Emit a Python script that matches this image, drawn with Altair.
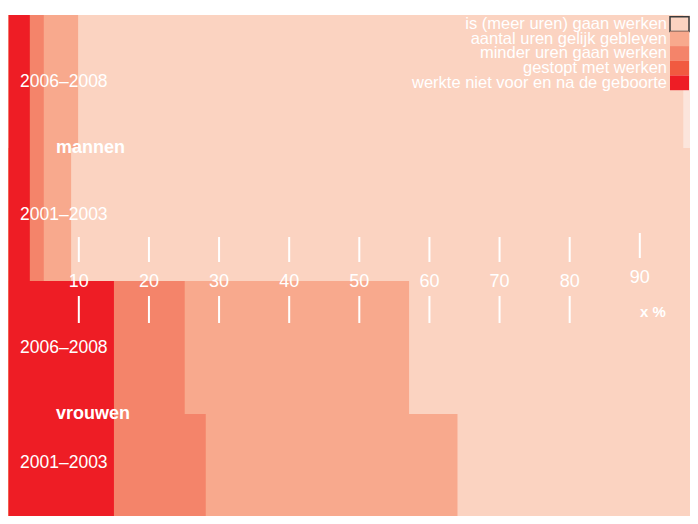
import altair as alt
import pandas as pd

FONT = "Liberation Sans"

# ---- data -------------------------------------------------------------
row_labels = ["2006–2008", "2001–2003", "2006–2008", "2001–2003"]
groups = ["mannen", "vrouwen"]
categories = [
    "werkte niet voor en na de geboorte",
    "gestopt met werken",
    "minder uren gaan werken",
    "aantal uren gelijk gebleven",
    "is (meer uren) gaan werken",
]
colors = ["#EE1D25", "#F15A40", "#F4846A", "#F8A98D", "#FBD3C1"]
rest_color = "#FCE5DC"

werkte_niet = [3.0, 3.0, 15.0, 15.0]
gestopt = [0.0, 0.0, 0.0, 0.0]
minder = [2.0, 2.0, 10.1, 13.1]
gelijk = [4.9, 3.9, 32.0, 35.9]
meer = [86.3, 88.3, 40.2, 34.1]

ticks = [10, 20, 30, 40, 50, 60, 70, 80, 90]

# ---- tables -------------------------------------------------------------
# Every rect starts at 0 and runs to its cumulative end (longest first) and
# down to the last row, drawn row by row, so adjoining rects leave no seams.
series = [werkte_niet, gestopt, minder, gelijk, meer]
n_rows = len(row_labels)
recs = []
for r in range(n_rows):
    for c in reversed(range(len(categories))):
        end = sum(series[k][r] for k in range(c + 1))
        recs.append({"row": r, "row_end": n_rows, "cat": categories[c], "x0": 0.0, "x1": end})
bars_df = pd.DataFrame(recs)
bg_df = pd.DataFrame({"row": [0], "row_end": [n_rows], "x0": [0.0], "x1": [100.0]})

lab_df = pd.DataFrame({"row": list(range(n_rows)), "label": row_labels})
grp_df = pd.DataFrame({"g": [1.0, 3.0], "label": groups})
tick_df = pd.DataFrame({"v": ticks, "t": [str(t) for t in ticks]})
legend_order = categories[::-1]
leg_df = pd.DataFrame({"label": legend_order, "color": colors[::-1]})

# ---- scales -------------------------------------------------------------
W, H = 682, 508
PX_PER_UNIT = 7.0122
ROW_PX = 133.0
y_top = -7.0 / ROW_PX
x_left = -0.1
xs = alt.Scale(domain=[x_left, x_left + W / PX_PER_UNIT], nice=False, zero=False)
ys = alt.Scale(domain=[y_top, y_top + H / ROW_PX], nice=False, zero=False, reverse=True)

bg = alt.Chart(bg_df).mark_rect(color=rest_color, clip=True).encode(
    x=alt.X("x0:Q", scale=xs, axis=None), x2="x1:Q",
    y=alt.Y("row:Q", scale=ys, axis=None), y2="row_end:Q",
)

bars = alt.Chart(bars_df).mark_rect(clip=True).encode(
    x=alt.X("x0:Q", scale=xs, axis=None), x2="x1:Q",
    y=alt.Y("row:Q", scale=ys, axis=None), y2="row_end:Q",
    color=alt.Color("cat:N", scale=alt.Scale(domain=categories, range=colors), legend=None),
)

row_text = alt.Chart(lab_df).transform_calculate(
    ypos="datum.row + (datum.row == 3 ? 0.37 : 0.5)"
).mark_text(align="left", baseline="middle", color="white", fontSize=17.5, font=FONT).encode(
    x=alt.value(12), y=alt.Y("ypos:Q", scale=ys, axis=None), text="label:N"
)

grp_text = alt.Chart(grp_df).mark_text(
    align="left", baseline="middle", color="white", fontSize=18, fontWeight="bold", font=FONT
).encode(x=alt.value(48), y=alt.Y("g:Q", scale=ys, axis=None), text="label:N")

tk = alt.Chart(tick_df)
tick_top = tk.transform_filter("datum.v < 90").mark_rule(color="white", strokeWidth=2).encode(
    x=alt.X("v:Q", scale=xs, axis=None), y=alt.value(229), y2=alt.value(254))
tick_top90 = tk.transform_filter("datum.v >= 90").mark_rule(color="white", strokeWidth=2).encode(
    x=alt.X("v:Q", scale=xs, axis=None), y=alt.value(225), y2=alt.value(250))
tick_bot = tk.transform_filter("datum.v < 90").mark_rule(color="white", strokeWidth=2).encode(
    x=alt.X("v:Q", scale=xs, axis=None), y=alt.value(288), y2=alt.value(315))
tick_lab = tk.transform_filter("datum.v < 90").mark_text(
    align="center", baseline="middle", color="white", fontSize=18, font=FONT).encode(
    x=alt.X("v:Q", scale=xs, axis=None), y=alt.value(274), text="t:N")
tick_lab90 = tk.transform_filter("datum.v >= 90").mark_text(
    align="center", baseline="middle", color="white", fontSize=18, font=FONT).encode(
    x=alt.X("v:Q", scale=xs, axis=None), y=alt.value(270), text="t:N")
unit = alt.Chart(pd.DataFrame({"t": ["x %"]})).mark_text(
    align="center", baseline="middle", color="white", fontSize=15, fontWeight="bold", font=FONT
).encode(x=alt.value(645), y=alt.value(304), text="t:N")

main = alt.layer(bg, bars, row_text, grp_text, tick_top, tick_top90, tick_bot,
                 tick_lab, tick_lab90, unit)

ly = alt.Scale(domain=legend_order, range=[8.7, 82.2], type="band", paddingInner=0, paddingOuter=0)
leg_sw = alt.Chart(leg_df).mark_rect().encode(
    x=alt.value(662), x2=alt.value(W - 1),
    y=alt.Y("label:N", scale=ly, axis=None, sort=legend_order),
    fill=alt.Color("color:N", scale=None),
    stroke=alt.condition(alt.datum.label == legend_order[0], alt.value("#3a3a3a"), alt.value("transparent")),
    strokeWidth=alt.value(1.5),
)
leg_text = alt.Chart(leg_df).mark_text(
    align="right", baseline="middle", color="white", fontSize=16.5, font=FONT
).encode(
    x=alt.value(659),
    y=alt.Y("label:N", scale=ly, axis=None, sort=legend_order),
    text="label:N",
)
legend = alt.layer(leg_sw, leg_text)

chart = alt.layer(main, legend).resolve_scale(y="independent").properties(
    width=W, height=H, padding=0, autosize=alt.AutoSizeParams(type="none")
).configure_view(stroke=None)

chart.save("out.html", embed_options={"renderer": "svg", "actions": False})
